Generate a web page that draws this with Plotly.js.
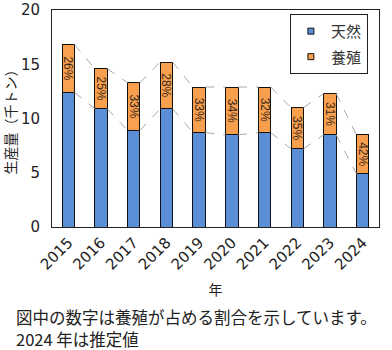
<!DOCTYPE html>
<html><head><meta charset="utf-8">
<script src="https://cdn.plot.ly/plotly-3.0.1.min.js"></script>
<style>html,body{margin:0;padding:0;background:#fff}#c{width:392px;height:350px}</style>
</head><body><div id="c"></div>
<script>
const years = ['2015','2016','2017','2018','2019','2020','2021','2022','2023','2024'];
const wild = [12.4, 10.9, 8.9, 10.9, 8.7, 8.5, 8.7, 7.2, 8.5, 4.9];
const farmed = [4.4, 3.7, 4.4, 4.3, 4.2, 4.4, 4.2, 3.8, 3.8, 3.6];
const farmedPct = ['26%','25%','33%','28%','33%','34%','32%','35%','31%','42%'];
const seriesNames = ['天然','養殖'];
const seriesColors = ['#5A8ED6', '#F9A04E'];
const yTitle = '生産量（千トン）';
const xTitle = '年';
const note1 = '図中の数字は養殖が占める割合を示しています。';
const note2 = '2024 年は推定値';

const W = 0.38;
const idx = years.map((_, i) => i);
const totals = wild.map((v, i) => v + farmed[i]);

function seriesLines(tops) {
  const xs = [], ys = [];
  for (let i = 0; i < tops.length - 1; i++) {
    xs.push(i + W / 2, i + 1 - W / 2, null);
    ys.push(tops[i], tops[i + 1], null);
  }
  return {xs, ys};
}
const l1 = seriesLines(totals), l2 = seriesLines(wild);
const font = '"DejaVu Sans", sans-serif';
const pfont = 'Liberation Sans, Arial, sans-serif';
const jfont = '"Noto Sans CJK JP", sans-serif';

const data = [
  {type:'bar', x: idx, y: wild, name: seriesNames[0], width: W, showlegend:false,
   marker:{color: seriesColors[0], line:{color:'#111', width:1}}, hoverinfo:'none'},
  {type:'bar', x: idx, y: farmed, name: seriesNames[1], width: W, showlegend:false,
   marker:{color: seriesColors[1], line:{color:'#111', width:1}},
   text: farmedPct, textposition:'inside', textangle: 90, insidetextanchor:'middle',
   constraintext:'none', textfont:{family: pfont, size: 12, color:'#3a2a1a'}, hoverinfo:'none'},
  {type:'scatter', mode:'lines', x: l1.xs, y: l1.ys, showlegend:false,
   line:{color:'#A9A9A9', width:1, dash:'dash'}, hoverinfo:'none'},
  {type:'scatter', mode:'lines', x: l2.xs, y: l2.ys, showlegend:false,
   line:{color:'#A9A9A9', width:1, dash:'dash'}, hoverinfo:'none'},
  {type:'scatter', mode:'markers', x:[null], y:[null], name: seriesNames[0], legendgroup:'a',
   marker:{symbol:'square', size:6, color: seriesColors[0], line:{color:'#111', width:1}}},
  {type:'scatter', mode:'markers', x:[null], y:[null], name: seriesNames[1], legendgroup:'b',
   marker:{symbol:'square', size:6, color: seriesColors[1], line:{color:'#111', width:1}}}
];

const layout = {
  width: 392, height: 350,
  margin: {l: 52, r: 13, t: 10, b: 123},
  paper_bgcolor: '#fff', plot_bgcolor: '#fff',
  barmode: 'stack',
  showlegend: true,
  legend: {x: 0.966, xanchor: 'right', y: 0.982, yanchor: 'top', traceorder: 'grouped',
    tracegroupgap: 3, bgcolor: '#fff', bordercolor: '#222', borderwidth: 1,
    font: {family: jfont, size: 15, color: '#333'}, itemwidth: 30},
  xaxis: {range: [-0.5, 9.5], tickvals: idx, ticktext: years, tickangle: -45,
    showgrid: false, zeroline: false, showline: true, linecolor: '#222', linewidth: 1, mirror: true,
    ticks: '', tickfont: {family: font, size: 15, color: '#222'},
    title: {text: xTitle, font: {family: jfont, size: 14, color: '#222'}, standoff: 12}},
  yaxis: {range: [0, 20], dtick: 5, showgrid: false, zeroline: false,
    showline: true, linecolor: '#222', linewidth: 1, mirror: true, ticks: '',
    tickfont: {family: font, size: 15, color: '#222'}, ticklabelstandoff: 8,
    title: {text: yTitle, font: {family: jfont, size: 14, color: '#222'}, standoff: 4}},
  annotations: [
    {xref:'paper', yref:'paper', x: -0.116, y: -0.415, xanchor:'left', yanchor:'middle',
     text: note1, showarrow:false, font:{family: jfont, size: 16.5, color:'#222'}},
    {xref:'paper', yref:'paper', x: -0.116, y: -0.516, xanchor:'left', yanchor:'middle',
     text: note2, showarrow:false, font:{family: jfont, size: 16.5, color:'#222'}}
  ]
};
Plotly.newPlot('c', data, layout, {displayModeBar: false, staticPlot: true});
</script></body></html>
